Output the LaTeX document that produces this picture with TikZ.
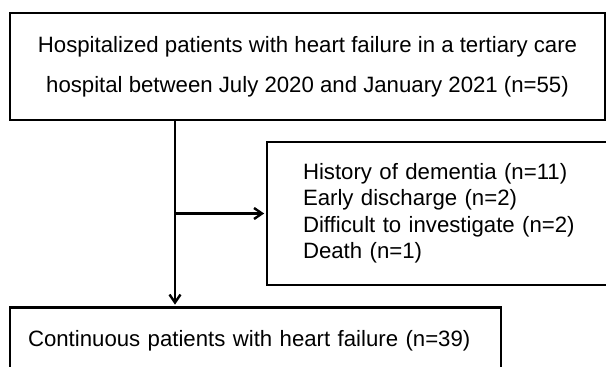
\documentclass[tikz,border=0pt]{standalone}
\usepackage{fontspec}
\setmainfont{Liberation Sans}
\usetikzlibrary{arrows.meta}
\begin{document}
\begin{tikzpicture}[x=1pt, y=-1pt,
  box/.style={draw, line width=2.7pt, inner ysep=0pt},
  flow/.style={line width=2.6pt, shorten >=1.5pt, -{Straight Barb[length=8pt,width=11pt,line width=2.4pt]}}]
\useasboundingbox (0,0) rectangle (606,367);
\clip (0,0) rectangle (606,367);
\node[box, minimum width=595pt, minimum height=107pt, align=center, font=\fontsize{22.2}{40}\selectfont] (top) at (307.5,66.5) {Hospitalized patients with heart failure in a tertiary care\\hospital between July 2020 and January 2021 (n=55)};
\node[box, inner xsep=36pt, minimum height=143pt, align=left, text width=300pt, font=\fontsize{22.2}{26.5}\selectfont] (excl) at (453,213.5) {History of dementia (n=11)\\Early discharge (n=2)\\Difficult to investigate (n=2)\\Death (n=1)};
\node[box, inner xsep=18pt, minimum height=66pt, align=left, text width=455pt, font=\fontsize{22.2}{26}\selectfont] (cont) at (255.5,340.5) {Continuous patients with heart failure (n=39)};
\coordinate (trunk) at (175,213.5);
\draw[flow] (top.south -| trunk) -- (cont.north -| trunk);
\draw[flow] (trunk) -- (excl.west);
\end{tikzpicture}
\end{document}
